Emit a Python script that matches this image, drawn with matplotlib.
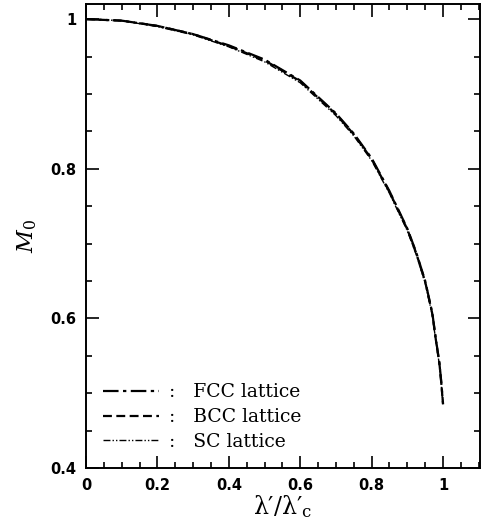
import numpy as np
import matplotlib.pyplot as plt
from matplotlib.ticker import MultipleLocator

plt.rcParams['mathtext.fontset'] = 'dejavuserif'

# values
lam = [0.0, 0.1, 0.2, 0.3, 0.4, 0.5, 0.6, 0.7, 0.75, 0.8, 0.85, 0.9, 0.925, 0.95, 0.97, 0.98, 0.99, 0.995, 1.0]
m_fcc = [1.000, 0.998, 0.991, 0.980, 0.965, 0.946, 0.918, 0.874, 0.847, 0.814, 0.770, 0.720, 0.688, 0.650, 0.607, 0.572, 0.540, 0.515, 0.486]
m_bcc = [1.000, 0.998, 0.991, 0.980, 0.964, 0.945, 0.917, 0.873, 0.846, 0.813, 0.769, 0.719, 0.687, 0.649, 0.606, 0.571, 0.539, 0.514, 0.485]
m_sc = [1.000, 0.998, 0.990, 0.979, 0.963, 0.943, 0.915, 0.871, 0.844, 0.811, 0.767, 0.717, 0.685, 0.647, 0.604, 0.569, 0.537, 0.512, 0.483]

fig = plt.figure(figsize=(4.86, 5.24), dpi=100)
ax = fig.add_axes([0.177, 0.107, 0.811, 0.885])

ax.plot(lam, m_fcc, color='black', lw=1.6, ls=(0, (7, 2, 1.5, 2)), label=':   FCC lattice')
ax.plot(lam, m_bcc, color='black', lw=1.6, ls=(0, (4, 2)), label=':   BCC lattice')
ax.plot(lam, m_sc, color='black', lw=1.0, ls=(0, (5, 1.5, 1, 1.5, 1, 1.5)), label=':   SC lattice')

ax.set_xlim(0, 1.104)
ax.set_ylim(0.4, 1.02)
ax.xaxis.set_minor_locator(MultipleLocator(0.05))
ax.yaxis.set_minor_locator(MultipleLocator(0.05))
ax.set_xticks([0, 0.2, 0.4, 0.6, 0.8, 1.0])
ax.set_xticklabels(['0', '0.2', '0.4', '0.6', '0.8', '1'])
ax.set_yticks([0.4, 0.6, 0.8, 1.0])
ax.set_yticklabels(['0.4', '0.6', '0.8', '1'])
ax.tick_params(which='both', direction='in', top=True, right=True, width=1.2)
ax.tick_params(which='major', length=9, labelsize=10.5, pad=7)
ax.tick_params(which='minor', length=4)
for lbl in ax.get_xticklabels() + ax.get_yticklabels():
    lbl.set_fontweight('bold')
for s in ax.spines.values():
    s.set_linewidth(1.4)

ax.set_xlabel("λ′/λ′$_\\mathrm{c}$", fontsize=17, labelpad=0, family='DejaVu Serif')
ax.set_ylabel(r"$M_0$", fontsize=16, labelpad=8)

leg = ax.legend(loc='lower left', frameon=False, handlelength=3.0, handletextpad=0.5,
                labelspacing=0.37, borderaxespad=0.3, borderpad=0.6,
                prop={'family': 'DejaVu Serif', 'size': 13.5})

fig.savefig('out.png', dpi=100)
